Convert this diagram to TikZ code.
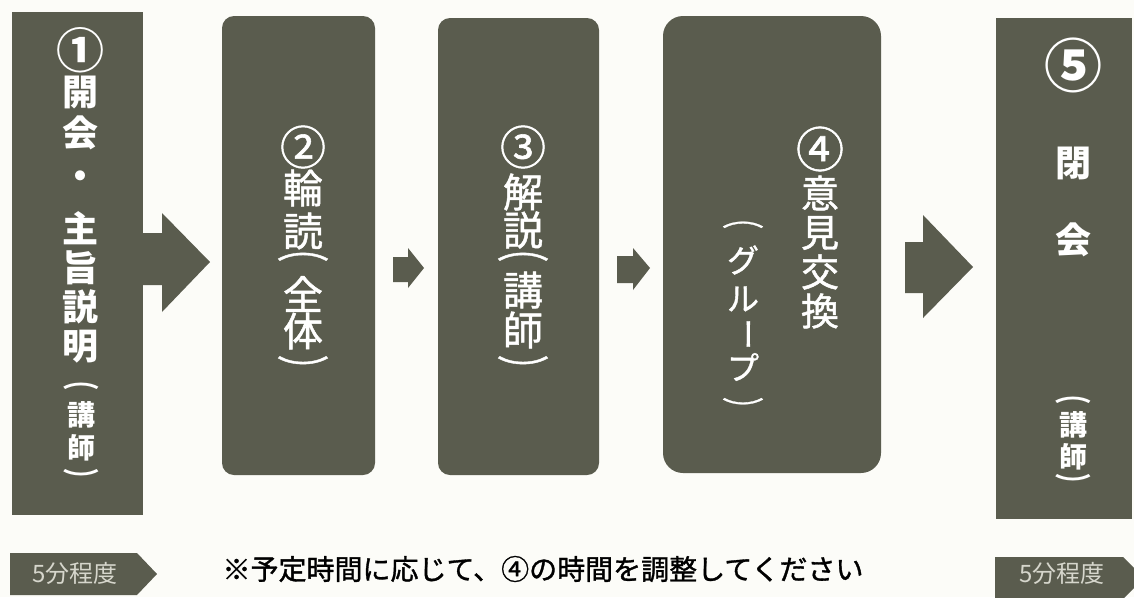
\documentclass[tikz,border=0pt]{standalone}
\usepackage{fontspec}
\usepackage{graphicx}
\newfontfamily\jp{Noto Sans CJK JP}
\newfontfamily\jpm[FakeBold=1.2]{Noto Sans CJK JP}
\definecolor{boxc}{RGB}{90,92,78}
\definecolor{tagtxt}{RGB}{214,214,204}
\definecolor{bg}{RGB}{252,252,248}
\newcommand{\vlp}{\scalebox{1.3}[0.75]{\rotatebox{-90}{（}}}
\newcommand{\vrp}{\scalebox{1.3}[0.75]{\rotatebox{-90}{）}}}
\newcommand{\vbar}{\rotatebox{-90}{ー}}
\tikzset{
  box/.style={fill=boxc, draw=none, inner sep=0pt, outer sep=0pt},
  wt/.style={text=white, inner sep=0pt, anchor=center},
  fsz/.style={font=\jp\fontsize{#1}{#1}\selectfont},
  msz/.style={font=\jpm\fontsize{#1}{#1}\selectfont},
  bsz/.style={font=\jp\bfseries\fontsize{#1}{#1}\selectfont},
}
\begin{document}
\begin{tikzpicture}[x=1pt,y=-1pt]
\fill[bg] (0,0) rectangle (1134,597);
\useasboundingbox (0,0) rectangle (1134,597);

% boxes
\node[box, minimum width=131pt, minimum height=503pt] (b1) at (77.5,263.5) {};
\node[box, rounded corners=12pt, minimum width=153pt, minimum height=459pt] (b2) at (298.5,245.5) {};
\node[box, rounded corners=12pt, minimum width=161pt, minimum height=457pt] (b3) at (518.5,246.5) {};
\node[box, rounded corners=20pt, minimum width=218pt, minimum height=457pt] (b4) at (772,244.5) {};
\node[box, minimum width=136pt, minimum height=501pt] (b5) at (1064,268.5) {};

% block arrows
\fill[boxc] (142,233) -- (162,233) -- (162,213) -- (210,262) -- (162,312) -- (162,285) -- (142,285) -- cycle;
\fill[boxc] (393,257) -- (408,257) -- (408,248) -- (424,268) -- (408,288) -- (408,282) -- (393,282) -- cycle;
\fill[boxc] (617,256) -- (633,256) -- (633,248) -- (650,268) -- (633,290) -- (633,283) -- (617,283) -- cycle;
\fill[boxc] (905,242) -- (923,242) -- (923,215) -- (973,267) -- (923,318) -- (923,293) -- (905,293) -- cycle;

% box 1 text
\node[wt, bsz=48] (t1-0) at (80,50) {①};
\foreach \c/\y [count=\i] in {開/93,会/133,・/180,主/228,旨/268,説/307,明/347}
  \node[wt, bsz=36] (t1-\i) at (80,\y) {\c};
\foreach \c/\y [count=\i] in {\vlp/380,講/415,師/448,\vrp/479}
  \node[wt, bsz=28] (s1-\i) at (81,\y) {\c};

% box 2 text
\node[wt, msz=46] (t2-0) at (303,147) {②};
\foreach \c/\y [count=\i] in {輪/188,読/231,\vlp/247,全/294,体/331,\vrp/370}
  \node[wt, msz=40] (t2-\i) at (303,\y) {\c};

% box 3 text
\node[wt, msz=46] (t3-0) at (523,147) {③};
\foreach \c/\y [count=\i] in {解/192,説/230,\vlp/247,講/290,師/330,\vrp/370}
  \node[wt, msz=40] (t3-\i) at (523,\y) {\c};

% box 4 text
\node[wt, msz=48] (t4-0) at (820,149) {④};
\foreach \c/\y [count=\i] in {意/193,見/233,交/272,換/311}
  \node[wt, msz=38] (t4-\i) at (820,\y) {\c};
\foreach \c/\y [count=\i] in {\vlp/217,グ/260,ル/299,\vbar/334,プ/367,\vrp/409}
  \node[wt, msz=32] (g4-\i) at (743,\y) {\c};

% box 5 text
\node[wt, bsz=58] (t5-0) at (1073,65) {⑤};
\node[wt, bsz=36] (t5-1) at (1073,163) {閉};
\node[wt, bsz=36] (t5-2) at (1073,240) {会};
\foreach \c/\y [count=\i] in {\vlp/394,講/425,師/457,\vrp/484}
  \node[wt, bsz=28] (s5-\i) at (1073,\y) {\c};

% time tags
\fill[boxc] (10,553) -- (137,553) -- (157,574) -- (137,595) -- (10,595) -- cycle;
\node[inner sep=0pt, text=tagtxt, fsz=24] (tag1) at (75,573) {5分程度};
\fill[boxc] (995,557) -- (1123,557) -- (1144,578) -- (1123,599) -- (995,599) -- cycle;
\node[inner sep=0pt, text=tagtxt, fsz=24] (tag2) at (1062,573) {5分程度};

% note
\node[inner sep=0pt, text=black, msz=28] (note) at (543,569) {※予定時間に応じて、④の時間を調整してください};
\end{tikzpicture}
\end{document}
